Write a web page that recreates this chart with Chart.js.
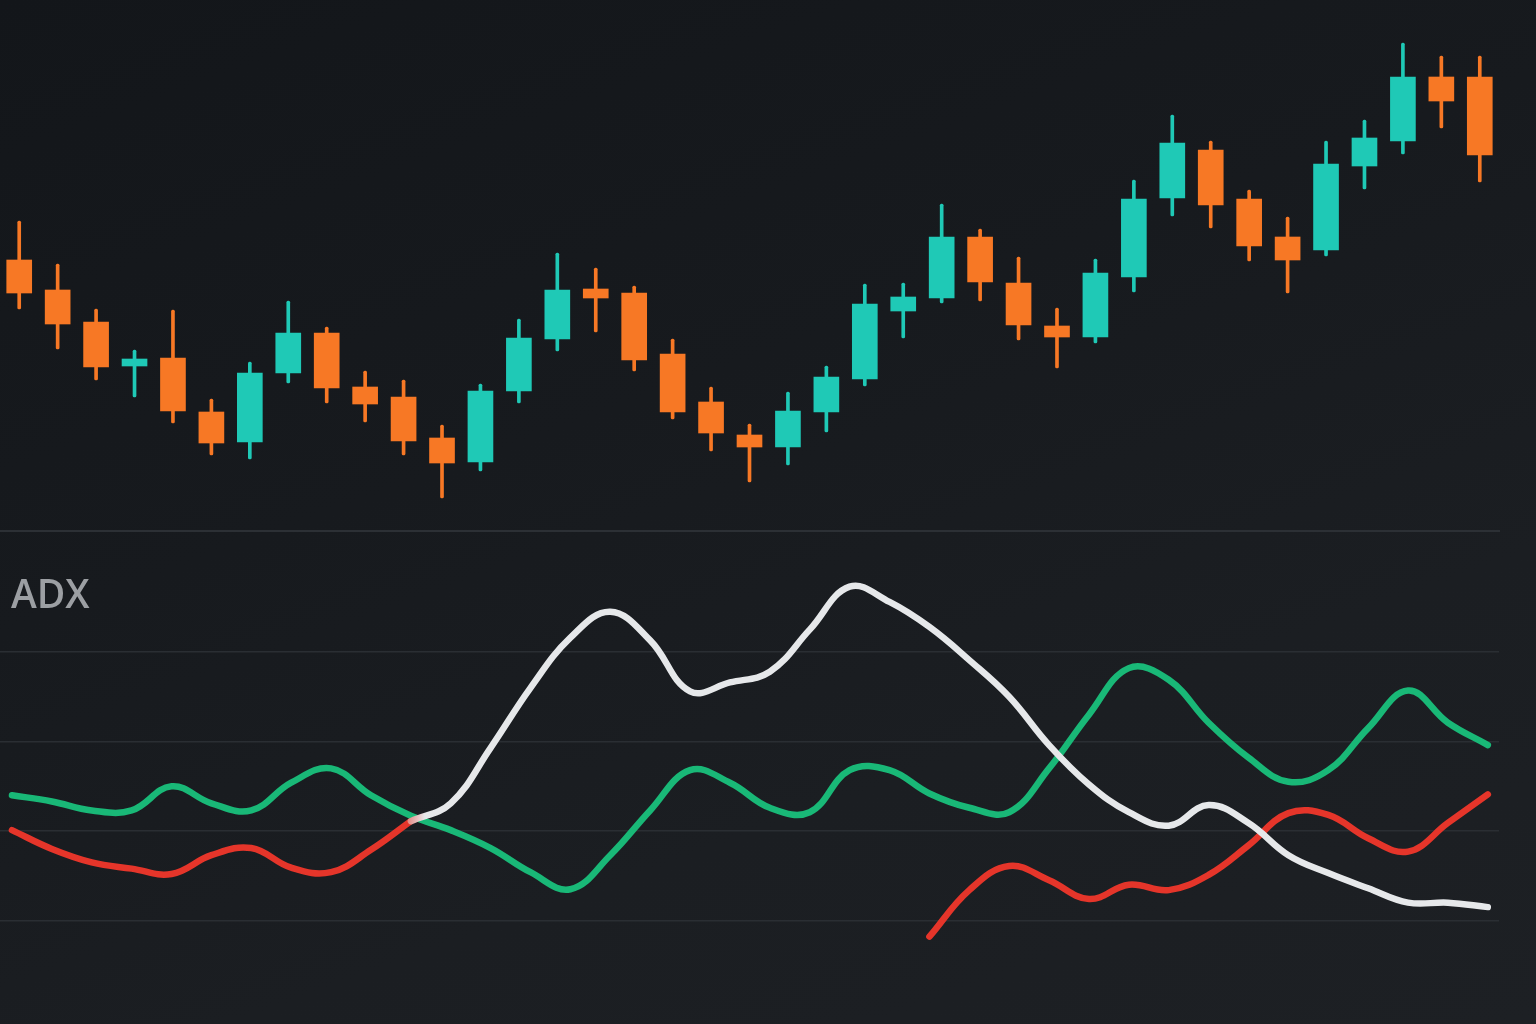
<!DOCTYPE html>
<html>
<head>
<meta charset="utf-8">
<script src="https://cdn.jsdelivr.net/npm/chart.js@4.4.1/dist/chart.umd.min.js"></script>
<style>
  html, body { margin: 0; padding: 0; }
  body {
    width: 1536px; height: 1024px; overflow: hidden; position: relative;
    background: linear-gradient(160deg, #13161a 0%, #171a1e 40%, #1b1e22 70%, #1d2024 100%);
  }
  canvas { display: block; }
  #priceWrap { position: absolute; left: 0; top: 0; width: 1536px; height: 520px; }
  #adxWrap { position: absolute; left: 0; top: 520px; width: 1536px; height: 504px; }
  #sep { position: absolute; left: 0; top: 530px; width: 1500px; height: 2px; background: #2c3035; }
</style>
</head>
<body>
<div id="priceWrap"><canvas id="price" width="1536" height="520"></canvas></div>
<div id="sep"></div>
<div id="adxWrap"><canvas id="adx" width="1536" height="504"></canvas></div>
<script>
// ---------- DATA ----------
const periods = ['P1','P2','P3','P4','P5','P6','P7','P8','P9','P10','P11','P12','P13','P14','P15','P16','P17','P18','P19','P20',
                 'P21','P22','P23','P24','P25','P26','P27','P28','P29','P30','P31','P32','P33','P34','P35','P36','P37','P38','P39'];
const openPrices  = [124.0,121.0,117.8,113.4,114.2,108.8,105.8,112.7,116.7,111.3,110.3,106.2,103.8,110.9,116.1,121.1,120.7,114.6,109.8,106.5,
                     105.3,108.8,112.1,118.9,120.2,126.3,121.7,117.4,116.3,122.3,130.2,135.0,130.1,126.3,125.0,133.4,135.9,142.3,142.3];
const highPrices  = [127.9,123.6,119.1,115.0,119.0,110.1,113.8,119.9,117.3,112.9,112.0,107.5,111.6,118.1,124.7,123.2,121.4,116.1,111.3,107.6,
                     110.8,113.4,121.6,121.7,129.6,127.1,124.3,119.2,124.1,132.0,138.5,135.9,131.0,128.3,135.9,138.0,145.7,144.4,144.4];
const lowPrices   = [119.1,115.1,112.0,110.3,107.7,104.5,104.1,111.7,109.7,107.8,104.5,100.2,102.9,109.7,114.9,116.8,112.9,108.1,104.9,101.8,
                     103.5,106.8,111.4,116.2,119.7,119.9,116.0,113.2,115.7,120.8,128.4,127.2,123.9,120.7,124.4,131.1,134.6,137.2,131.8];
const closePrices = [120.7,117.6,113.3,114.1,108.9,105.7,112.7,116.7,111.2,109.6,105.9,103.7,110.9,116.2,121.0,120.2,114.0,108.8,106.7,105.3,
                     108.9,112.3,119.6,120.3,126.3,121.8,117.5,116.3,122.7,130.1,135.7,129.5,125.4,124.0,133.6,136.2,142.3,139.9,134.5];

const adxValues     = [null,null,null,null,null,null,null,null,null,null,21.1,23.1,29.3,36.0,41.6,44.5,41.3,35.6,36.6,37.8,
                       42.5,47.3,45.6,42.8,39.1,35.0,29.6,25.2,22.1,20.6,22.9,20.9,17.3,15.3,13.6,12.0,12.0,11.5];
const plusDIValues  = [24.0,23.3,22.3,22.3,25.0,23.1,22.3,25.4,27.0,24.0,21.7,20.1,18.1,15.4,13.5,17.3,22.3,26.8,25.4,22.6,
                       22.1,26.8,26.8,24.2,22.6,22.1,27.0,33.0,38.2,36.9,32.1,28.2,25.5,26.8,31.5,35.7,32.1,29.6];
const minusDIValues = [20.1,18.0,16.5,15.8,15.2,17.3,18.1,15.9,15.4,17.9,21.1,null,null,null,null,null,null,null,null,null,
                       null,null,null,8.2,13.4,16.1,14.5,12.4,14.0,13.4,15.1,18.4,22.0,21.8,19.2,17.7,20.9,24.1];
const adxGridLevels = [10, 20, 30, 40];
const indicatorLabel = 'ADX';

// ---------- COLORS ----------
const UP = '#1fc9b6', DOWN = '#f77825';
const GREEN = '#19b877', RED = '#e5352a', WHITE = '#e6e8ea';

const isUp = openPrices.map((o, i) => closePrices[i] >= o);
const candleColors = isUp.map(u => u ? UP : DOWN);

// ---------- PRICE (candles) ----------
new Chart(document.getElementById('price'), {
  type: 'bar',
  data: {
    labels: periods,
    datasets: [
      {
        label: 'Wick',
        data: lowPrices.map((l, i) => [l, highPrices[i]]),
        backgroundColor: candleColors,
        barThickness: 3,
        grouped: false,
        order: 2,
        borderSkipped: false,
        borderRadius: 1.5
      },
      {
        label: 'Body',
        data: openPrices.map((o, i) => [o, closePrices[i]]),
        backgroundColor: candleColors,
        barThickness: 25,
        grouped: false,
        order: 1
      }
    ]
  },
  options: {
    responsive: false,
    animation: false,
    maintainAspectRatio: false,
    devicePixelRatio: 1,
    layout: { padding: { left: 0, right: 37, top: 0, bottom: 0 } },
    plugins: { legend: { display: false }, tooltip: { enabled: false } },
    scales: {
      x: { display: false, offset: true, grid: { display: false } },
      y: { display: false, min: 98, max: 150 }
    }
  }
});

// ---------- ADX panel ----------
const idx = plusDIValues.map((_, i) => i);
const toXY = arr => arr.map((v, i) => ({ x: idx[i], y: v }));

const labelPlugin = {
  id: 'panelLabel',
  afterDraw(chart) {
    const c = chart.ctx;
    c.save();
    c.font = '600 39px "Open Sans", sans-serif';
    c.fillStyle = '#9c9fa3';
    c.textBaseline = 'alphabetic';
    c.fillText(indicatorLabel, 11, 88);
    c.restore();
  }
};

function adxStroke(context) {
  const chart = context.chart;
  const area = chart.chartArea;
  if (!area) return WHITE;
  const xs = chart.scales.x;
  const x0 = xs.getPixelForValue(9.55), x1 = xs.getPixelForValue(10.35);
  const g = chart.ctx.createLinearGradient(x0, 0, x1, 0);
  g.addColorStop(0, RED);
  g.addColorStop(1, WHITE);
  return g;
}

new Chart(document.getElementById('adx'), {
  type: 'line',
  data: {
    datasets: [
      { label: '-DI', data: toXY(minusDIValues), borderColor: RED, borderWidth: 6.5, order: 3 },
      { label: '+DI', data: toXY(plusDIValues), borderColor: GREEN, borderWidth: 6.5, order: 2 },
      { label: 'ADX', data: toXY(adxValues), borderColor: adxStroke, borderWidth: 6.5, order: 1 }
    ]
  },
  options: {
    responsive: false,
    animation: false,
    maintainAspectRatio: false,
    devicePixelRatio: 1,
    layout: { padding: { left: 0, right: 37, top: 0, bottom: 0 } },
    elements: {
      point: { radius: 0 },
      line: { tension: 0.4, borderCapStyle: 'round', borderJoinStyle: 'round', fill: false }
    },
    spanGaps: false,
    plugins: { legend: { display: false }, tooltip: { enabled: false } },
    scales: {
      x: { type: 'linear', min: -0.3, max: 37.28, display: false },
      y: {
        min: -1.56, max: 54.75,
        border: { display: false },
        ticks: { display: false },
        afterBuildTicks: s => { s.ticks = adxGridLevels.map(v => ({ value: v })); },
        grid: { color: '#2a2e33', lineWidth: 1.5, drawTicks: false }
      }
    }
  },
  plugins: [labelPlugin]
});
</script>
</body>
</html>
